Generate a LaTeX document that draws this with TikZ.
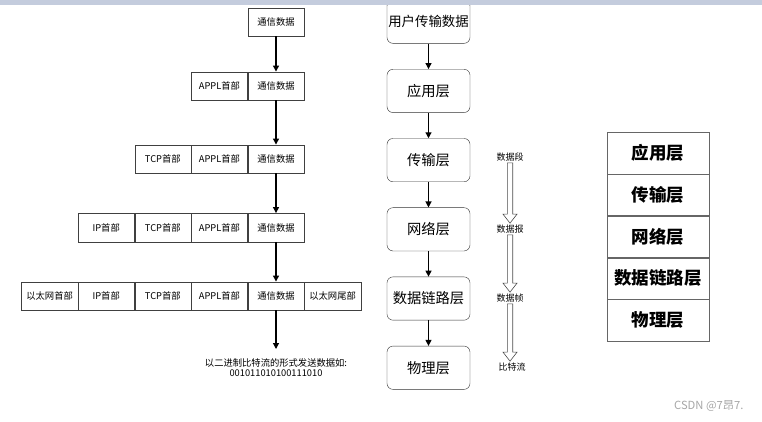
\documentclass[tikz,border=0pt]{standalone}
\usepackage{fontspec}
\setmainfont{Noto Sans CJK SC}
\usetikzlibrary{positioning,arrows.meta,calc}

\definecolor{bandblue}{HTML}{C4CCDD}

\tikzset{
    cell/.style={draw=black!75, minimum width=56.2pt, minimum height=28.5pt, inner sep=0pt, font=\fontsize{9.3}{11}\selectfont},
    layer/.style={draw=black!80, rounded corners=6pt, minimum width=83pt, minimum height=43.3pt, inner sep=0pt, font=\fontsize{14.3}{16}\selectfont},
    stackrow/.style={draw=black!60, minimum width=102pt, minimum height=41.4pt, inner sep=0pt, font=\fontsize{17.5}{20}\selectfont\bfseries},
    unit/.style={inner sep=1.5pt, font=\fontsize{9}{10}\selectfont},
    arr/.style={line width=1.2pt, -{Triangle[length=6pt,width=6pt]}},
}

% hollow block arrow from one label to the next
\newcommand\hollowarrow[2]{%
    \path[draw=black!70, fill=white, line width=0.6pt]
        let \p1=(#1.south), \p2=(#2.north) in
        (\x1-2.7pt,\y1) -- (\x1+2.7pt,\y1) -- (\x1+2.7pt,\y2+9pt) -- (\x1+7pt,\y2+9pt)
        -- (\x1,\y2) -- (\x1-7pt,\y2+9pt) -- (\x1-2.7pt,\y2+9pt) -- cycle;
}

\begin{document}
\begin{tikzpicture}[x=1pt, y=-1pt]
\useasboundingbox (0,0) rectangle (762,421);

% Encapsulation
\node[cell] (d1) at (276,22) {通信数据};

\node[cell] (d2) at (276,86) {通信数据};
\node[cell, left=0pt of d2] (app2) {APPL首部};

\node[cell] (d3) at (276,159) {通信数据};
\node[cell, left=0pt of d3] (app3) {APPL首部};
\node[cell, left=0pt of app3] (tcp3) {TCP首部};

\node[cell] (d4) at (276,227.5) {通信数据};
\node[cell, left=0pt of d4] (app4) {APPL首部};
\node[cell, left=0pt of app4] (tcp4) {TCP首部};
\node[cell, left=0pt of tcp4] (ip4) {IP首部};

\node[cell] (d5) at (276,296) {通信数据};
\node[cell, left=0pt of d5] (app5) {APPL首部};
\node[cell, left=0pt of app5] (tcp5) {TCP首部};
\node[cell, left=0pt of tcp5] (ip5) {IP首部};
\node[cell, left=0pt of ip5] (eth5) {以太网首部};
\node[cell, right=0pt of d5] (tail5) {以太网尾部};

\node[anchor=north, align=center, inner xsep=0pt, inner ysep=9pt, font=\fontsize{9.3}{10.5}\selectfont] (send) at (276,349)
    {以二进制比特流的形式发送数据如:\\001011010100111010};

\foreach \a/\b in {d1/d2, d2/d3, d3/d4, d4/d5, d5/send}
    \draw[arr] (\a) -- (\b);

% Layers
\node[layer, font=\fontsize{13.4}{16}\selectfont] (user) at (428.5,21.7) {用户传输数据};
\node[layer, below=25.5pt of user] (appl) {应用层};
\node[layer, below=25.5pt of appl] (trans) {传输层};
\node[layer, below=25.5pt of trans] (net) {网络层};
\node[layer, below=25.5pt of net] (link) {数据链路层};
\node[layer, below=25.5pt of link] (phys) {物理层};

\foreach \a/\b in {user/appl, appl/trans, trans/net, net/link, link/phys}
    \draw[arr] (\a) -- (\b);

% Data units
\node[unit] (seg) at (510,157) {数据段};
\node[unit] (pkt) at (510,229) {数据报};
\node[unit] (frm) at (510,298) {数据帧};
\node[unit] (bit) at (512,367) {比特流};

\hollowarrow{seg}{pkt}
\hollowarrow{pkt}{frm}
\hollowarrow{frm}{bit}

% Layer stack
\node[stackrow] (s1) at (658,153) {应用层};
\node[stackrow, below=0pt of s1] (s2) {传输层};
\node[stackrow, below=0pt of s2] (s3) {网络层};
\node[stackrow, below=0pt of s3] (s4) {数据链路层};
\node[stackrow, below=0pt of s4] (s5) {物理层};

% top band and watermark
\fill[bandblue] (0,0) rectangle (762,4.5);
\node[anchor=west, text=black!35, inner sep=0pt, font=\fontsize{11.2}{13}\selectfont] (mark) at (674,406) {CSDN @7昂7.};

\end{tikzpicture}
\end{document}
